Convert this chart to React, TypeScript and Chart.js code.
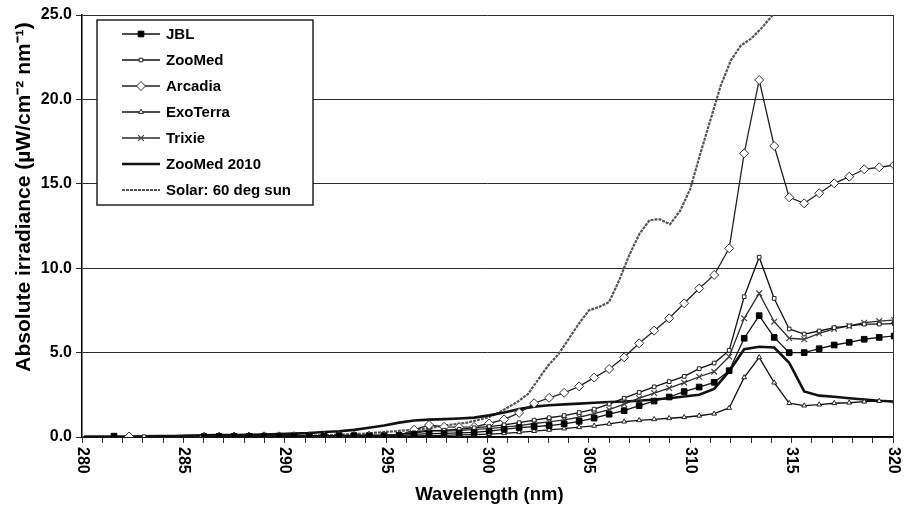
import React, { useEffect, useRef } from 'react';
import { Chart, registerables } from 'chart.js';
import * as helpers from 'chart.js/helpers';

Chart.register(...registerables);

// Wavelength grid of lamp measurements (nm)
const wavelengths = [
  280.10, 280.84, 281.58, 282.32, 283.06, 283.80, 284.54, 285.28, 286.02, 286.76,
  287.50, 288.24, 288.98, 289.72, 290.46, 291.20, 291.94, 292.68, 293.42, 294.16,
  294.90, 295.64, 296.38, 297.12, 297.86, 298.60, 299.34, 300.08, 300.82, 301.56,
  302.30, 303.04, 303.78, 304.52, 305.26, 306.00, 306.74, 307.48, 308.22, 308.96,
  309.70, 310.44, 311.18, 311.92, 312.66, 313.40, 314.14, 314.88, 315.62, 316.36,
  317.10, 317.84, 318.58, 319.32, 320.06,
];

const jbl = [
  null, null, 0.05, null, null, null, null, null, 0.02, 0.03,
  0.03, 0.04, 0.05, 0.05, 0.06, 0.07, 0.07, 0.08, 0.08, 0.07,
  0.07, 0.08, 0.15, 0.20, 0.22, 0.24, 0.27, 0.35, 0.45, 0.56,
  0.62, 0.68, 0.78, 0.93, 1.12, 1.35, 1.56, 1.86, 2.13, 2.37,
  2.69, 2.96, 3.24, 3.93, 5.85, 7.19, 5.90, 5.00, 5.00, 5.23,
  5.45, 5.61, 5.79, 5.90, 5.98,
];

const zooMed = [
  null, null, null, null, 0.02, null, null, null, 0.03, 0.03,
  0.04, 0.04, 0.05, 0.05, 0.06, 0.07, 0.08, 0.09, 0.10, 0.11,
  0.12, 0.15, 0.25, 0.35, 0.40, 0.45, 0.55, 0.62, 0.72, 0.85,
  1.00, 1.14, 1.27, 1.45, 1.65, 1.95, 2.30, 2.64, 2.97, 3.28,
  3.59, 4.05, 4.38, 5.13, 8.31, 10.65, 8.21, 6.40, 6.10, 6.28,
  6.48, 6.58, 6.69, 6.69, 6.72,
];

const arcadia = [
  null, null, null, 0.03, null, null, null, null, 0.02, 0.02,
  0.03, 0.03, 0.04, 0.04, 0.05, 0.05, 0.06, 0.06, 0.07, 0.08,
  0.08, 0.10, 0.43, 0.71, 0.60, 0.58, 0.60, 0.80, 1.04, 1.43,
  2.00, 2.32, 2.62, 3.00, 3.52, 4.03, 4.72, 5.55, 6.30, 7.03,
  7.92, 8.80, 9.60, 11.18, 16.80, 21.15, 17.24, 14.20, 13.84, 14.44,
  15.03, 15.42, 15.86, 15.98, 16.11,
];

const exoTerra = [
  null, null, null, null, null, null, null, null, 0.01, 0.01,
  0.01, 0.02, 0.02, 0.02, 0.03, 0.03, 0.03, 0.04, 0.04, 0.04,
  0.05, 0.05, 0.06, 0.08, 0.10, 0.12, 0.14, 0.17, 0.22, 0.28,
  0.35, 0.42, 0.50, 0.58, 0.66, 0.78, 0.91, 0.99, 1.05, 1.11,
  1.17, 1.26, 1.38, 1.72, 3.53, 4.72, 3.22, 2.00, 1.86, 1.92,
  2.00, 2.03, 2.09, 2.13, 2.10,
];

const trixie = [
  null, null, null, null, null, null, null, null, 0.02, 0.02,
  0.03, 0.03, 0.04, 0.04, 0.05, 0.05, 0.06, 0.07, 0.08, 0.09,
  0.10, 0.12, 0.30, 0.40, 0.35, 0.38, 0.45, 0.50, 0.58, 0.68,
  0.80, 0.90, 1.02, 1.17, 1.38, 1.62, 1.95, 2.30, 2.60, 2.90,
  3.22, 3.57, 3.87, 4.76, 7.03, 8.51, 6.83, 5.85, 5.79, 6.14,
  6.40, 6.58, 6.77, 6.87, 6.93,
];

const zooMed2010 = [
  0.02, 0.02, 0.03, 0.03, 0.04, 0.05, 0.06, 0.08, 0.10, 0.11,
  0.12, 0.13, 0.15, 0.17, 0.20, 0.24, 0.30, 0.34, 0.42, 0.55,
  0.68, 0.85, 0.98, 1.03, 1.06, 1.10, 1.15, 1.28, 1.45, 1.65,
  1.80, 1.88, 1.93, 1.98, 2.03, 2.07, 2.10, 2.15, 2.22, 2.30,
  2.40, 2.50, 2.85, 3.90, 5.20, 5.35, 5.30, 4.40, 2.70, 2.45,
  2.38, 2.30, 2.22, 2.15, 2.10,
];

// Solar spectrum (60 deg sun)
const solarWavelengths = [
  280, 285, 288, 290, 292, 294, 295, 296, 297, 298,
  299, 300, 300.5, 301, 301.5, 302, 302.5, 303, 303.5, 304,
  304.5, 305, 305.5, 306, 306.5, 307, 307.5, 308, 308.5, 309,
  309.5, 310, 310.5, 311, 311.5, 312, 312.5, 313, 313.5, 314,
  314.5, 315,
];
const solarValues = [
  0, 0, 0.02, 0.05, 0.10, 0.20, 0.30, 0.40, 0.50, 0.70,
  0.85, 1.15, 1.40, 1.75, 2.10, 2.55, 3.40, 4.25, 4.90, 5.80,
  6.70, 7.50, 7.70, 8.00, 9.30, 10.80, 12.05, 12.85, 12.90, 12.60,
  13.40, 14.70, 16.80, 18.80, 20.80, 22.30, 23.20, 23.60, 24.20, 24.90,
  25.70, 26.40,
];

const seriesLabels = ['JBL', 'ZooMed', 'Arcadia', 'ExoTerra', 'Trixie', 'ZooMed 2010', 'Solar: 60 deg sun'];
const xTickLabels = ['280', '285', '290', '295', '300', '305', '310', '315', '320'];
const yTickValues = [0, 5, 10, 15, 20, 25];
const xTitle = 'Wavelength (nm)';
const yTitle = 'Absolute irradiance (µW/cm⁻² nm⁻¹)';

const FONT = '"Liberation Sans", Arial, Helvetica, sans-serif';

const toXY = (xs: number[], ys: (number | null)[]) => xs.map((x, i) => ({ x, y: ys[i] }));

const customPlugin = {
  id: 'custom',
  afterDraw(chart: any) {
    const { ctx, chartArea, scales } = chart;
    ctx.save();
    // right frame
    ctx.strokeStyle = '#333';
    ctx.lineWidth = 1;
    ctx.beginPath();
    ctx.moveTo(chartArea.right + 0.5, chartArea.top);
    ctx.lineTo(chartArea.right + 0.5, chartArea.bottom);
    ctx.stroke();

    // x tick labels, rotated clockwise
    ctx.fillStyle = '#000';
    ctx.font = `bold 16px ${FONT}`;
    ctx.textAlign = 'left';
    ctx.textBaseline = 'middle';
    xTickLabels.forEach((lab) => {
      const px = scales.x.getPixelForValue(Number(lab));
      ctx.save();
      ctx.translate(px, chartArea.bottom + 10);
      ctx.rotate(Math.PI / 2);
      ctx.fillText(lab, 0, 0);
      ctx.restore();
    });

    // axis titles
    ctx.font = `bold 18.5px ${FONT}`;
    ctx.textAlign = 'center';
    ctx.textBaseline = 'middle';
    ctx.fillText(xTitle, (chartArea.left + chartArea.right) / 2 + 2, 495);
    ctx.save();
    ctx.translate(24, 197);
    ctx.rotate(-Math.PI / 2);
    ctx.font = `bold 21px ${FONT}`;
    ctx.fillText(yTitle, 0, 0);
    ctx.restore();

    // legend
    const bx = 97, by = 20, bw = 216, bh = 185;
    ctx.fillStyle = '#fff';
    ctx.fillRect(bx, by, bw, bh);
    ctx.strokeStyle = '#222';
    ctx.lineWidth = 1.5;
    ctx.strokeRect(bx, by, bw, bh);
    chart.data.datasets.forEach((ds: any, i: number) => {
      const y = 34 + i * 26;
      ctx.save();
      ctx.strokeStyle = ds.borderColor;
      ctx.lineWidth = ds.borderWidth;
      ctx.setLineDash(ds.borderDash || []);
      ctx.beginPath();
      ctx.moveTo(122, y);
      ctx.lineTo(160, y);
      ctx.stroke();
      ctx.setLineDash([]);
      if (ds.pointRadius > 0) {
        ctx.fillStyle = ds.pointBackgroundColor;
        ctx.strokeStyle = ds.pointBorderColor;
        ctx.lineWidth = ds.pointBorderWidth;
        helpers.drawPoint(ctx, { pointStyle: ds.pointStyle, radius: ds.pointRadius, rotation: 0, borderWidth: ds.pointBorderWidth }, 141, y);
      }
      ctx.restore();
      ctx.fillStyle = '#000';
      ctx.font = `bold 15px ${FONT}`;
      ctx.textAlign = 'left';
      ctx.textBaseline = 'middle';
      ctx.fillText(ds.label, 166, y + 1);
    });
    ctx.restore();
  },
};

export default function App() {
  const ref = useRef<HTMLCanvasElement>(null);
  useEffect(() => {
    if (!ref.current) return;
    const lamp = (label: string, vals: (number | null)[], style: any) => ({
      label,
      data: toXY(wavelengths, vals),
      borderColor: '#111',
      borderWidth: 1.3,
      tension: 0,
      spanGaps: false,
      ...style,
    });
    const chart = new Chart(ref.current, {
      type: 'line',
      data: {
        datasets: [
          lamp(seriesLabels[0], jbl, { pointStyle: 'rect', pointRadius: 4, pointBackgroundColor: '#000', pointBorderColor: '#000', pointBorderWidth: 1 }),
          lamp(seriesLabels[1], zooMed, { pointStyle: 'rect', pointRadius: 2.6, pointBackgroundColor: '#fff', pointBorderColor: '#222', pointBorderWidth: 1 }),
          lamp(seriesLabels[2], arcadia, { borderColor: '#222', pointStyle: 'rectRot', pointRadius: 4.5, pointBackgroundColor: '#fff', pointBorderColor: '#333', pointBorderWidth: 1 }),
          lamp(seriesLabels[3], exoTerra, { pointStyle: 'triangle', pointRadius: 2.8, pointBackgroundColor: '#fff', pointBorderColor: '#222', pointBorderWidth: 1 }),
          lamp(seriesLabels[4], trixie, { borderColor: '#2a2a2a', pointStyle: 'crossRot', pointRadius: 4, pointBackgroundColor: '#444', pointBorderColor: '#444', pointBorderWidth: 1.2 }),
          lamp(seriesLabels[5], zooMed2010, { borderWidth: 2.6, pointRadius: 0, pointStyle: 'circle', pointBackgroundColor: '#111', pointBorderColor: '#111', pointBorderWidth: 0 }),
          {
            label: seriesLabels[6],
            data: toXY(solarWavelengths, solarValues),
            borderColor: '#555555',
            borderWidth: 2.2,
            borderDash: [3, 1],
            pointRadius: 0,
            pointStyle: 'circle',
            pointBackgroundColor: '#555555',
            pointBorderColor: '#555555',
            pointBorderWidth: 0,
            tension: 0,
          },
        ],
      },
      options: {
        animation: false,
        responsive: false,
        maintainAspectRatio: false,
        layout: { padding: { top: 15, right: 16, left: 0, bottom: 0 } },
        plugins: { legend: { display: false }, tooltip: { enabled: false } },
        scales: {
          x: {
            type: 'linear',
            min: 280,
            max: 320,
            ticks: { stepSize: 1, display: false },
            grid: { drawOnChartArea: false, drawTicks: true, tickLength: 6, color: '#333', lineWidth: 1 },
            border: { color: '#000', width: 1.5 },
            afterFit: (s: any) => { s.height = 70; },
          },
          y: {
            min: 0,
            max: 25,
            afterBuildTicks: (s: any) => { s.ticks = yTickValues.map((v) => ({ value: v })); },
            ticks: {
              callback: (v: any) => Number(v).toFixed(1),
              font: { family: FONT, size: 16, weight: 'bold' },
              color: '#000',
              padding: 4,
            },
            grid: { color: '#2a2a2a', lineWidth: 1, tickLength: 6 },
            border: { color: '#000', width: 1.5 },
            afterFit: (s: any) => { s.width = 82; },
          },
        },
      },
      plugins: [customPlugin],
    } as any);
    return () => chart.destroy();
  }, []);
  return (
    <div style={{ position: 'fixed', left: 0, top: 0, width: 909, height: 507, background: '#fff' }}>
      <canvas ref={ref} width={909} height={507} style={{ display: 'block' }} />
    </div>
  );
}
